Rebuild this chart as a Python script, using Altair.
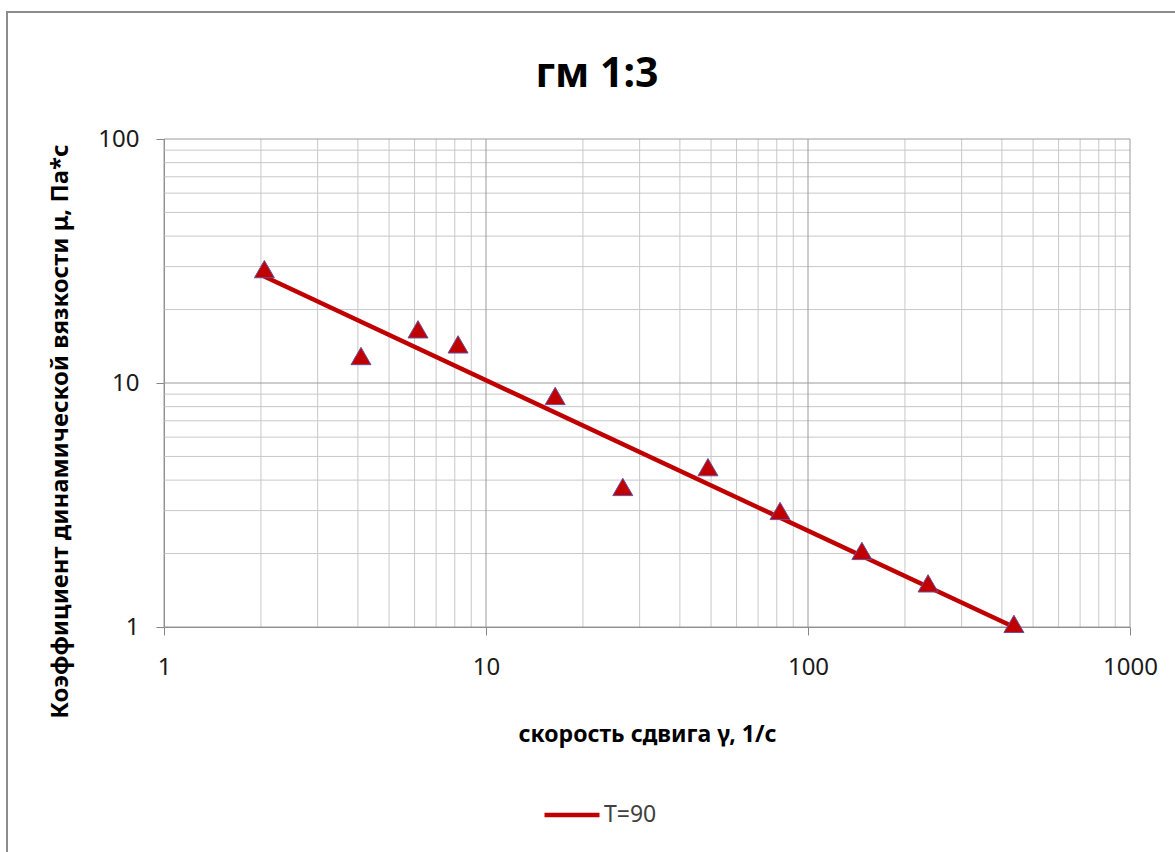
import altair as alt
import pandas as pd

# measured points (shear rate, viscosity)
shear_rate = [2.05, 4.09, 6.15, 8.19, 16.4, 26.6, 48.9, 81.9, 147, 236, 436]
viscosity = [29.3, 12.9, 16.6, 14.4, 8.85, 3.75, 4.52, 2.99, 2.05, 1.51, 1.03]

# power trend line endpoints
trend_x = [2.05, 436]
trend_y = [27.3, 1.0]
series_name = "T=90"
chart_title = "гм 1:3"

# grid values
x_major = [1, 10, 100, 1000]
x_minor = [2, 3, 4, 5, 6, 7, 8, 9, 20, 30, 40, 50, 60, 70, 80, 90,
           200, 300, 400, 500, 600, 700, 800, 900]
y_major = [1, 10, 100]
y_minor = [2, 3, 4, 5, 6, 7, 8, 9, 20, 30, 40, 50, 60, 70, 80, 90]

FONT = "Noto Sans"
W, H = 966, 488

xscale = alt.Scale(type="log", domain=[1, 1000], nice=False)
yscale = alt.Scale(type="log", domain=[1, 100], nice=False)

x_axis = alt.Axis(
    values=x_major, grid=False, labelExpr="format(datum.value, 'd')",
    title="скорость сдвига γ, 1/с", titleFontWeight="bold", titleFontSize=23,
    titlePadding=44, labelPadding=20, labelFlush=False,
)
y_axis = alt.Axis(
    values=y_major, grid=False, labelExpr="format(datum.value, 'd')",
    title="Коэффициент динамической вязкости μ, Па*с", titleFontWeight="bold",
    titleFontSize=24, titlePadding=25, labelPadding=17, labelFlush=False,
    titleY=292,
)

pts = pd.DataFrame({"x": shear_rate, "y": viscosity})
trend = pd.DataFrame({"x": trend_x, "y": trend_y, "s": [series_name] * len(trend_x)})

frame = alt.Chart(pd.DataFrame({"a": [0]})).mark_rect(
    fill=None, stroke="#8c8c8c", strokeWidth=2
).encode(
    x=alt.value(-157), x2=alt.value(1100), y=alt.value(-127), y2=alt.value(800)
)

title_mark = alt.Chart(pd.DataFrame({"t": [chart_title]})).mark_text(
    font=FONT, fontSize=41, fontWeight="bold", color="#000000",
    align="center", baseline="alphabetic",
).encode(text="t:N", x=alt.value(433), y=alt.value(-52))

gx_minor = alt.Chart(pd.DataFrame({"x": x_minor})).mark_rule(
    color="#c8c8c8", strokeWidth=1
).encode(x=alt.X("x:Q", scale=xscale, axis=x_axis))
gx_major = alt.Chart(pd.DataFrame({"x": x_major})).mark_rule(
    color="#9a9a9a", strokeWidth=1
).encode(x=alt.X("x:Q", scale=xscale, axis=x_axis))
gy_minor = alt.Chart(pd.DataFrame({"y": y_minor})).mark_rule(
    color="#c8c8c8", strokeWidth=1
).encode(y=alt.Y("y:Q", scale=yscale, axis=y_axis))
gy_major = alt.Chart(pd.DataFrame({"y": y_major})).mark_rule(
    color="#9a9a9a", strokeWidth=1
).encode(y=alt.Y("y:Q", scale=yscale, axis=y_axis))

line = alt.Chart(trend).mark_line(strokeWidth=4.5, strokeCap="round").encode(
    x=alt.X("x:Q", scale=xscale, axis=x_axis),
    y=alt.Y("y:Q", scale=yscale, axis=y_axis),
    color=alt.Color(
        "s:N",
        scale=alt.Scale(domain=[series_name], range=["#C00000"]),
        legend=alt.Legend(
            title=None, orient="none", legendX=378, legendY=646,
            symbolType="stroke", symbolSize=3025, symbolStrokeWidth=4.5,
            labelFontSize=23, labelColor="#404040", labelFont=FONT,
            labelOffset=2, padding=0,
        ),
    ),
)

points = alt.Chart(pts).mark_point(
    shape="triangle-up", filled=True, size=400, fill="#C00000",
    stroke="#6a4f9c", strokeWidth=1, opacity=1,
).encode(
    x=alt.X("x:Q", scale=xscale, axis=x_axis),
    y=alt.Y("y:Q", scale=yscale, axis=y_axis),
)

chart = alt.layer(
    frame, title_mark, gx_minor, gy_minor, gx_major, gy_major, line, points
).properties(
    width=W, height=H,
    padding={"left": 164, "top": 139, "right": 45, "bottom": 225},
    autosize=alt.AutoSizeParams(type="none"),
).configure(background="white").configure_view(stroke=None).configure_axis(
    domainColor="#868686", tickColor="#868686", tickSize=8, domainWidth=1,
    labelFont=FONT, labelFontSize=24, labelColor="#1a1a1a",
    titleFont=FONT, titleColor="#000000",
)

chart.save("out.html", embed_options={"renderer": "svg", "actions": False})
